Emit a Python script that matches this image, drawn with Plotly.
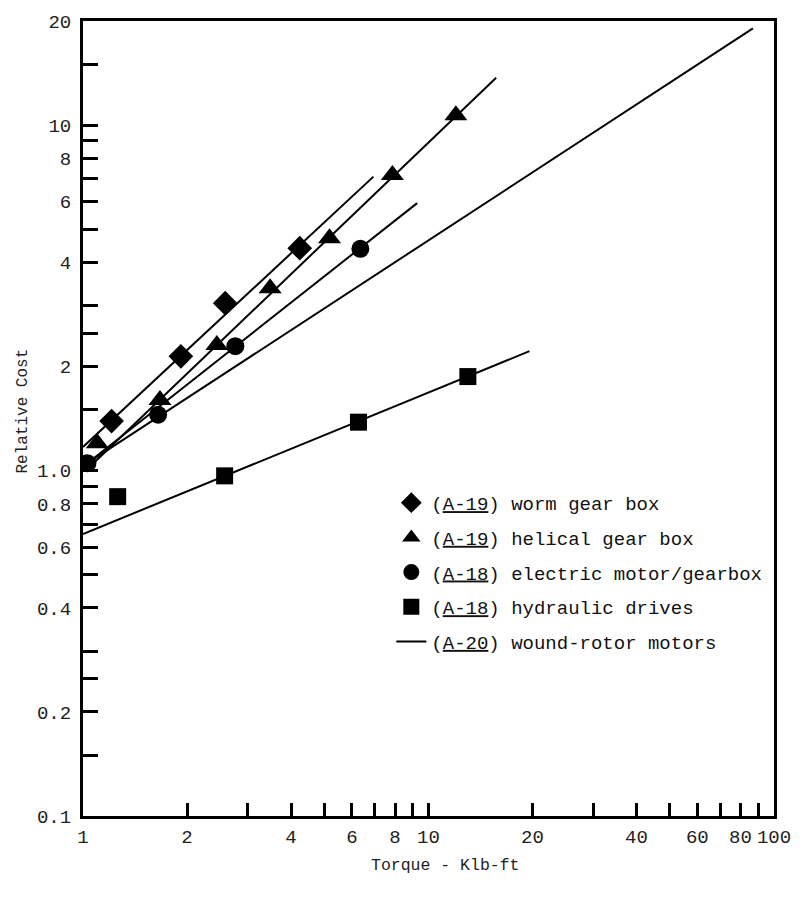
import plotly.graph_objects as go

# ---- data ----
worm_x = [1.21, 1.92, 2.58, 4.24]
worm_y = [1.39, 2.14, 3.05, 4.40]

helical_x = [1.10, 1.67, 2.44, 3.48, 5.17, 7.86, 12.0]
helical_y = [1.20, 1.60, 2.31, 3.37, 4.70, 7.17, 10.67]

electric_x = [1.03, 1.65, 2.76, 6.35]
electric_y = [1.05, 1.45, 2.29, 4.38]

hydraulic_x = [1.26, 2.57, 6.27, 13.0]
hydraulic_y = [0.84, 0.965, 1.38, 1.87]

# fitted straight lines (end points)
worm_line_x = [1.0, 6.93]
worm_line_y = [1.17, 7.09]
helical_line_x = [1.03, 15.7]
helical_line_y = [1.01, 13.7]
electric_line_x = [1.03, 9.27]
electric_line_y = [1.05, 5.94]
wound_line_x = [1.03, 86.9]
wound_line_y = [1.05, 19.04]
hydraulic_line_x = [1.0, 19.6]
hydraulic_line_y = [0.655, 2.215]

x_tickvals = [1, 2, 3, 4, 5, 6, 7, 8, 9, 10, 20, 30, 40, 50, 60, 70, 80, 90, 100]
x_ticktext = ["1", "2", "", "4", "", "6", "", "8", "", "10", "20", "", "40", "", "60", "", "80", "", "100"]
y_tickvals = [0.1, 0.15, 0.2, 0.25, 0.3, 0.4, 0.5, 0.6, 0.7, 0.8, 0.9, 1.0, 1.5, 2, 2.5, 3, 4, 5, 6, 7, 8, 9, 10, 15, 20]
y_ticktext = ["0.1", "", "0.2", "", "", "0.4", "", "0.6", "", "0.8", "", "1.0", "", "2", "", "", "4", "", "6", "", "8", "", "10", "", "20"]

names = [
    "(<u>A-19</u>) worm gear box",
    "(<u>A-19</u>) helical gear box",
    "(<u>A-18</u>) electric motor/gearbox",
    "(<u>A-18</u>) hydraulic drives",
    "(<u>A-20</u>) wound-rotor motors",
]

MONO = "Liberation Mono, DejaVu Sans Mono, monospace"
fig = go.Figure()

line_style = dict(color="black", width=2)
for lx, ly in [(worm_line_x, worm_line_y), (helical_line_x, helical_line_y),
               (electric_line_x, electric_line_y), (hydraulic_line_x, hydraulic_line_y)]:
    fig.add_trace(go.Scatter(x=lx, y=ly, mode="lines", line=line_style,
                             showlegend=False, hoverinfo="skip"))

fig.add_trace(go.Scatter(x=worm_x, y=worm_y, mode="markers", name=names[0], legendgroup="a",
                         marker=dict(symbol="diamond", size=19, color="black")))
fig.add_trace(go.Scatter(x=helical_x, y=helical_y, mode="markers", name=names[1], legendgroup="b",
                         marker=dict(symbol="triangle-up", size=20, color="black")))
fig.add_trace(go.Scatter(x=electric_x, y=electric_y, mode="markers", name=names[2], legendgroup="c",
                         marker=dict(symbol="circle", size=18, color="black")))
fig.add_trace(go.Scatter(x=hydraulic_x, y=hydraulic_y, mode="markers", name=names[3], legendgroup="d",
                         marker=dict(symbol="square", size=17, color="black")))
fig.add_trace(go.Scatter(x=wound_line_x, y=wound_line_y, mode="lines", name=names[4], legendgroup="e",
                         line=line_style))

fig.update_layout(
    width=803, height=909,
    margin=dict(l=83, r=23, t=19, b=93),
    paper_bgcolor="white", plot_bgcolor="white",
    font=dict(family=MONO, color="#222", size=19),
    legend=dict(x=(394 - 83) / 697, y=1 - (483 - 19) / 797, xanchor="left", yanchor="top",
                bgcolor="rgba(0,0,0,0)", font=dict(size=19, color="#111"),
                tracegroupgap=7, itemwidth=30),
    xaxis=dict(type="log", range=[0, 2], tickmode="array", tickvals=x_tickvals, ticktext=x_ticktext,
               ticks="inside", ticklen=13, tickwidth=2.5, tickcolor="black",
               showline=True, linecolor="black", linewidth=3, mirror=True,
               showgrid=False, zeroline=False, tickfont=dict(size=19), ticklabelstandoff=1),
    yaxis=dict(type="log", range=[-1, 1.30103], tickmode="array", tickvals=y_tickvals, ticktext=y_ticktext,
               ticks="inside", ticklen=15, tickwidth=2.5, tickcolor="black",
               showline=True, linecolor="black", linewidth=3, mirror=True,
               showgrid=False, zeroline=False, tickfont=dict(size=19), ticklabelstandoff=5),
    annotations=[
        dict(text="Relative Cost", xref="paper", yref="paper", x=(22 - 83) / 697, y=1 - (410 - 19) / 797,
             textangle=-90, showarrow=False, font=dict(size=16, color="#222"), xanchor="center", yanchor="middle"),
        dict(text="Torque - Klb-ft", xref="paper", yref="paper", x=(449 - 83) / 697, y=1 - (866 - 19) / 797,
             showarrow=False, font=dict(size=16.5, color="#222"), xanchor="center", yanchor="middle"),
    ],
)

fig.write_html("out.html")
